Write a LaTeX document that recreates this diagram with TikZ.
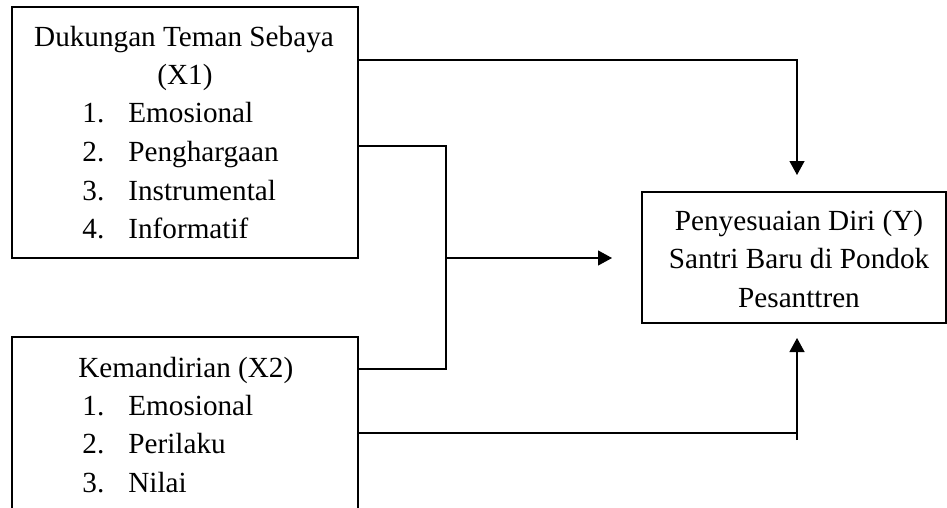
\documentclass[tikz,border=0pt]{standalone}
\usepackage{fontspec}
\setmainfont{Liberation Serif}
\usetikzlibrary{arrows.meta,fit}
\begin{document}
\begin{tikzpicture}[x=0.5pt,y=-0.5pt,
  box/.style={draw, line width=0.6pt, inner sep=0pt},
  txt/.style={inner sep=0pt, anchor=base, font=\fontsize{14.6pt}{19pt}\selectfont},
  lft/.style={txt, anchor=base west},
  conn/.style={line width=0.6pt},
  arr/.style={conn, -{Triangle[length=7pt,width=7.5pt]}}]
\useasboundingbox (0,0) rectangle (947,508);
\clip (0,0) rectangle (947,508);
% boxes
\node[box, fit={(12,7) (358,258)}] (x1) {};
\node[box, fit={(12,337) (358,540)}] (x2) {};
\node[box, fit={(642,192) (946,323)}] (y) {};
% X1 text
\node[txt] (x1t1) at (184,47) {Dukungan Teman Sebaya};
\node[txt] (x1t2) at (185,85) {(X1)};
\node[lft] (x1n1) at (82,123) {1.};
\node[lft] (x1i1) at (128,123) {Emosional};
\node[lft] (x1n2) at (82,162) {2.};
\node[lft] (x1i2) at (128,162) {Penghargaan};
\node[lft] (x1n3) at (82,200) {3.};
\node[lft] (x1i3) at (128,200) {Instrumental};
\node[lft] (x1n4) at (82,238) {4.};
\node[lft] (x1i4) at (128,238) {Informatif};
% X2 text
\node[lft] (x2t1) at (78,377) {Kemandirian (X2)};
\node[lft] (x2n1) at (82,415) {1.};
\node[lft] (x2i1) at (128,415) {Emosional};
\node[lft] (x2n2) at (82,453) {2.};
\node[lft] (x2i2) at (128,453) {Perilaku};
\node[lft] (x2n3) at (82,492) {3.};
\node[lft] (x2i3) at (128,492) {Nilai};
% Y text
\node[txt] (yt1) at (799,230) {Penyesuaian Diri (Y)};
\node[txt] (yt2) at (799,268) {Santri Baru di Pondok};
\node[txt] (yt3) at (799,307) {Pesanttren};
% connectors
\coordinate (c1) at (797,175);
\coordinate (r1) at (0,60);
\draw[arr] (x1.east |- r1) -| (c1);
\coordinate (j1) at (446,146);
\coordinate (j2) at (446,369);
\draw[conn] (x1.east |- j1) -- (j1) -- (j2) -- (x2.east |- j2);
\coordinate (a2) at (612,258);
\draw[arr] (j1 |- a2) -- (a2);
\coordinate (c5) at (797,433);
\coordinate (c4) at (797,440);
\coordinate (c3) at (797,338);
\draw[conn] (x2.east |- c5) -- (c5);
\draw[arr] (c4) -- (c3);
\end{tikzpicture}
\end{document}
